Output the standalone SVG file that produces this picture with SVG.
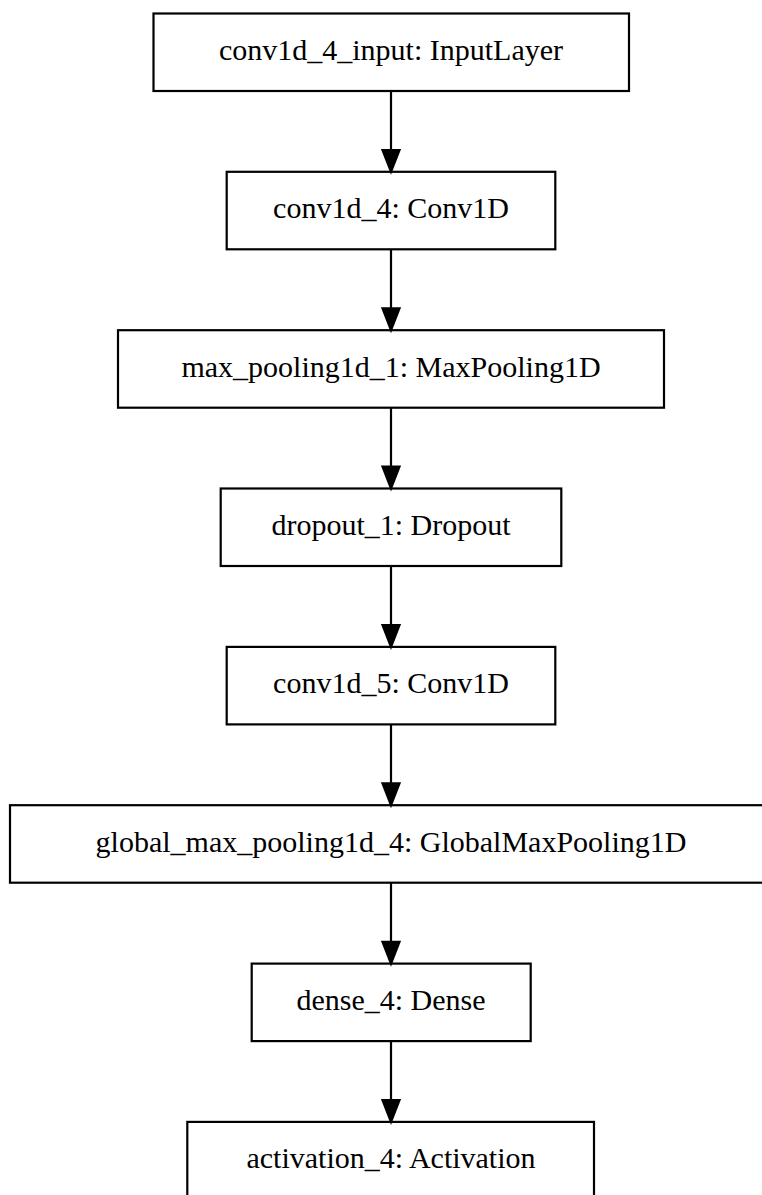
<svg xmlns="http://www.w3.org/2000/svg" width="762" height="1195" viewBox="0 0 762 1195">
  <style>
    .node rect { fill: #ffffff; stroke: #000000; stroke-width: 2.2; }
    .node text { font-family: "Liberation Serif", "Times New Roman", serif; font-size: 30px; fill: #000000; text-anchor: middle; }
    .edges line { stroke: #000000; stroke-width: 2.2; }
    .edges polygon { fill: #000000; stroke: #000000; stroke-width: 2.2; stroke-linejoin: miter; }
  </style>
  <rect width="762" height="1195" fill="#ffffff"/>

  <!-- layer stack, top to bottom -->
  <g id="conv1d_4_input" class="node">
    <rect x="153.5" y="13.5" width="475.5" height="77.5"/>
    <text x="391" y="60">conv1d_4_input: InputLayer</text>
  </g>
  <g id="conv1d_4" class="node">
    <rect x="226.7" y="171.8" width="328.6" height="77.5"/>
    <text x="391" y="218.3">conv1d_4: Conv1D</text>
  </g>
  <g id="max_pooling1d_1" class="node">
    <rect x="118" y="330.2" width="546" height="77.5"/>
    <text x="391" y="376.7">max_pooling1d_1: MaxPooling1D</text>
  </g>
  <g id="dropout_1" class="node">
    <rect x="220.7" y="488.5" width="340.6" height="77.5"/>
    <text x="391" y="535">dropout_1: Dropout</text>
  </g>
  <g id="conv1d_5" class="node">
    <rect x="226.7" y="646.9" width="328.6" height="77.5"/>
    <text x="391" y="693.4">conv1d_5: Conv1D</text>
  </g>
  <g id="global_max_pooling1d_4" class="node">
    <rect x="10" y="805.2" width="762" height="77.5"/>
    <text x="391" y="851.7">global_max_pooling1d_4: GlobalMaxPooling1D</text>
  </g>
  <g id="dense_4" class="node">
    <rect x="251.7" y="963.6" width="279" height="77.5"/>
    <text x="391" y="1010.1">dense_4: Dense</text>
  </g>
  <g id="activation_4" class="node">
    <rect x="187.3" y="1121.9" width="406.7" height="77.5"/>
    <text x="391" y="1168.4">activation_4: Activation</text>
  </g>

  <!-- edges between consecutive layers -->
  <g id="edges" class="edges">
    <line x1="391" y1="91" x2="391" y2="150"/>
    <polygon points="382.5,150 391,171.8 399.5,150"/>
    <line x1="391" y1="249.3" x2="391" y2="308.4"/>
    <polygon points="382.5,308.4 391,330.2 399.5,308.4"/>
    <line x1="391" y1="407.7" x2="391" y2="466.7"/>
    <polygon points="382.5,466.7 391,488.5 399.5,466.7"/>
    <line x1="391" y1="566" x2="391" y2="625.1"/>
    <polygon points="382.5,625.1 391,646.9 399.5,625.1"/>
    <line x1="391" y1="724.4" x2="391" y2="783.4"/>
    <polygon points="382.5,783.4 391,805.2 399.5,783.4"/>
    <line x1="391" y1="882.7" x2="391" y2="941.8"/>
    <polygon points="382.5,941.8 391,963.6 399.5,941.8"/>
    <line x1="391" y1="1041.1" x2="391" y2="1100.1"/>
    <polygon points="382.5,1100.1 391,1121.9 399.5,1100.1"/>
  </g>
</svg>
